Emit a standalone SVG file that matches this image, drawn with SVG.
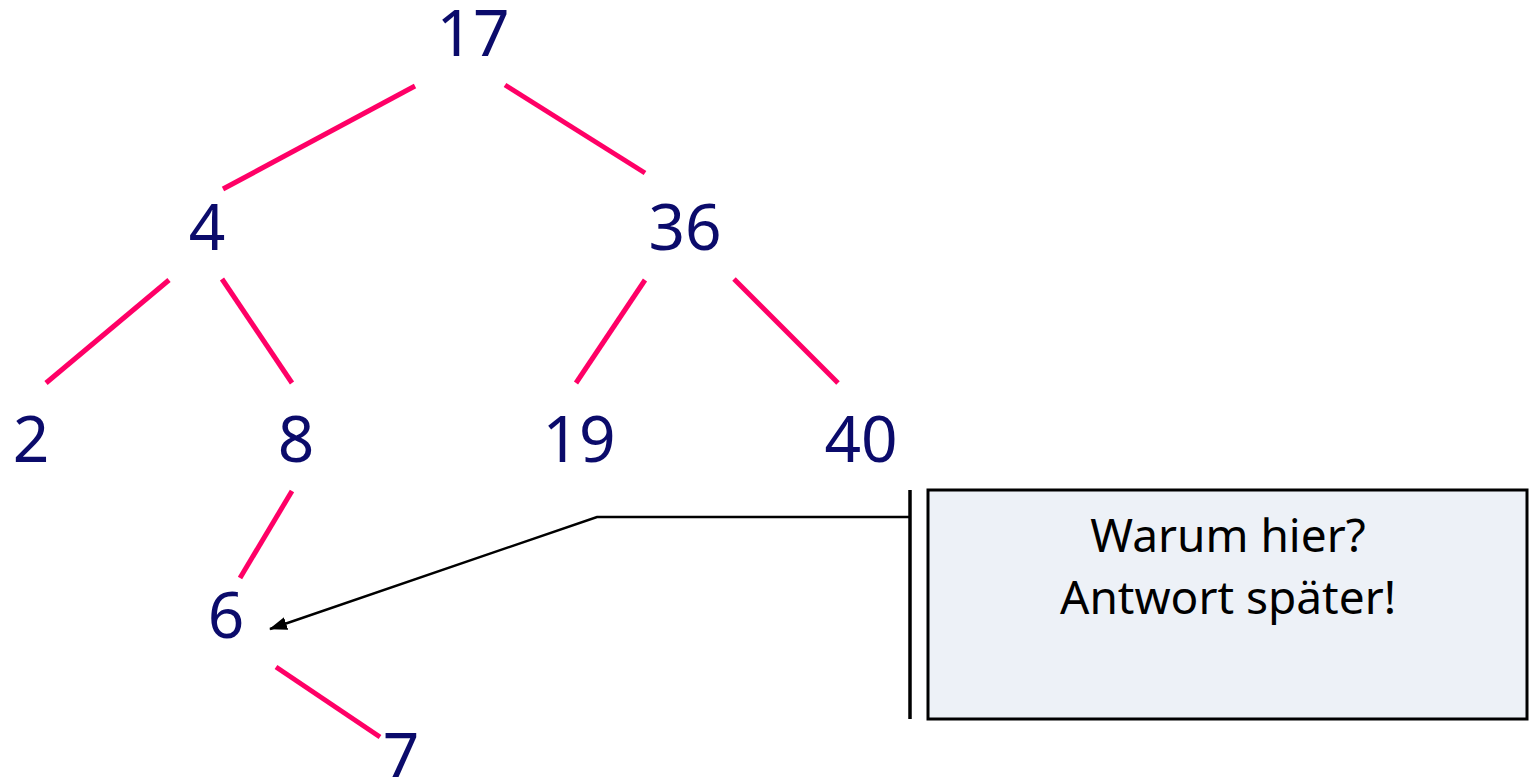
<svg xmlns="http://www.w3.org/2000/svg" width="1533" height="777" viewBox="0 0 1533 777">
<style>
.n{font-family:"Noto Sans","Open Sans",sans-serif;font-size:64px;fill:#0B0B6B;text-anchor:middle}
.e{stroke:#FF0066;stroke-width:5;fill:none}
.c{font-family:"Noto Sans","Open Sans",sans-serif;font-size:46px;fill:#000;text-anchor:middle}
</style>
<defs>
<marker id="ah" viewBox="0 0 18 13" refX="17" refY="6.5" markerWidth="18" markerHeight="13" markerUnits="userSpaceOnUse" orient="auto">
<path d="M0,0 L18,6.5 L0,13 Z" fill="#000"/>
</marker>
</defs>
<rect width="1533" height="777" fill="#fff"/>
<g id="connectors">
<line class="e" x1="415" y1="86" x2="223" y2="189"/>
<line class="e" x1="505" y1="85" x2="645" y2="173"/>
<line class="e" x1="169" y1="280" x2="46" y2="383"/>
<line class="e" x1="222" y1="279" x2="292" y2="383"/>
<line class="e" x1="645" y1="280" x2="576" y2="383"/>
<line class="e" x1="734" y1="279" x2="838" y2="383"/>
<line class="e" x1="292" y1="491" x2="240" y2="578"/>
<line class="e" x1="276" y1="667" x2="380" y2="737"/>
</g>
<g id="n17"><text class="n" x="473" y="56">17</text></g>
<g id="n4"><text class="n" x="207" y="250">4</text></g>
<g id="n36"><text class="n" x="685" y="250">36</text></g>
<g id="n2"><text class="n" x="31" y="462">2</text></g>
<g id="n8"><text class="n" x="296" y="462">8</text></g>
<g id="n19"><text class="n" x="579" y="462">19</text></g>
<g id="n40"><text class="n" x="861" y="462">40</text></g>
<g id="n6"><text class="n" x="226" y="638">6</text></g>
<g id="n7"><text class="n" x="401" y="779">7</text></g>
<g id="callout">
<path d="M910,517 L597,517 L270,629" fill="none" stroke="#000" stroke-width="2.5" marker-end="url(#ah)"/>
<line x1="910" y1="490" x2="910" y2="719" stroke="#000" stroke-width="3.5"/>
<rect x="928" y="490" width="599" height="229" fill="#EDF1F7" stroke="#000" stroke-width="3"/>
<text class="c" x="1228" y="552">Warum hier?</text>
<text class="c" x="1228" y="614">Antwort später!</text>
</g>
</svg>
